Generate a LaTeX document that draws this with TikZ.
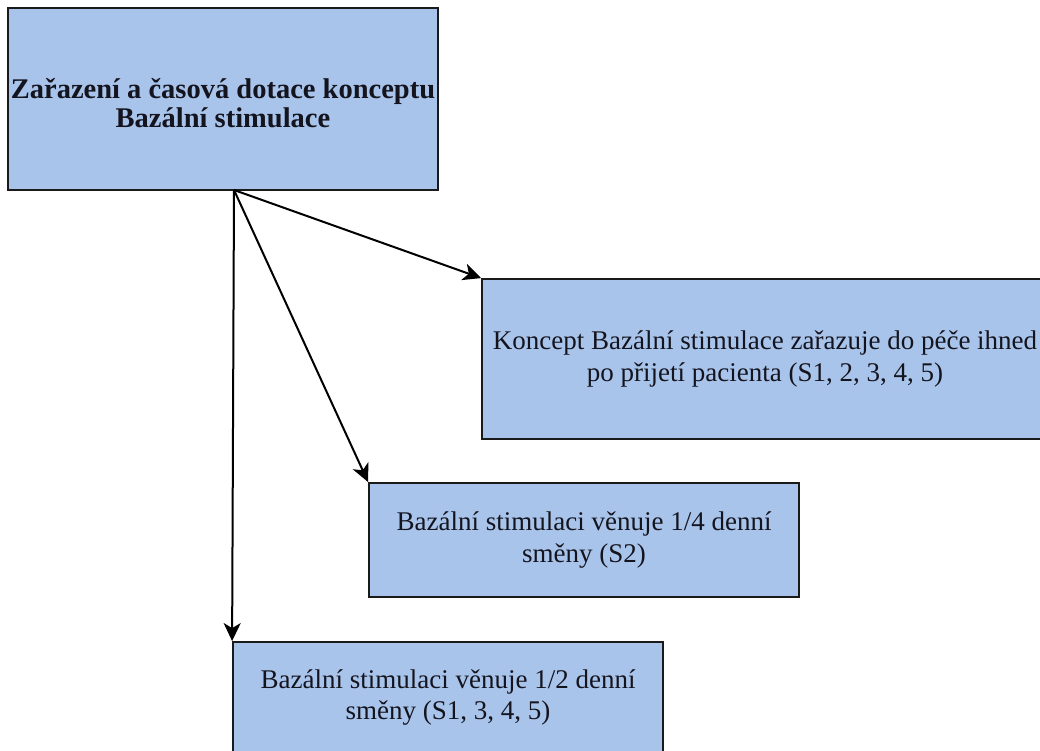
\documentclass[tikz,border=0pt]{standalone}
\usepackage{fontspec}
\setmainfont{Liberation Serif}
\usepackage{tikz}
\usetikzlibrary{arrows.meta}
\usetikzlibrary{positioning}
\definecolor{box-blue}{HTML}{A9C4EB}
\definecolor{box-line}{HTML}{1A1A1A}
\definecolor{box-text}{HTML}{14141E}
\tikzset{
  stagebox/.style={draw=box-line,fill=box-blue,line width=1.8pt,text=box-text,
    inner sep=0pt,align=center,font=\fontsize{27}{31.5}\selectfont},
  headbox/.style={stagebox,font=\fontsize{28.5}{29}\selectfont\bfseries},
  link/.style={draw=black,line width=2pt,-{Stealth[length=18pt,width=17pt,inset=5pt]}}
}
\begin{document}
\begin{tikzpicture}[x=1pt,y=-1pt]
\useasboundingbox (0,0) rectangle (1040,751);
% boxes
\node[headbox,minimum width=430pt,minimum height=182pt,text height=61pt,text depth=4pt] (title) at (223,99)
  {Zařazení a časová dotace konceptu\\Bazální stimulace};
\node[stagebox,minimum width=566pt,minimum height=160pt] (now) at (765,359)
  {Koncept Bazální stimulace zařazuje do péče ihned\\po přijetí pacienta (S1, 2, 3, 4, 5)};
\node[stagebox,minimum width=430pt,minimum height=114pt] (quarter) at (584,540)
  {Bazální stimulaci věnuje 1/4 denní\\směny (S2)};
\node[stagebox,minimum width=430pt,minimum height=111pt] (half) at (448,697.5)
  {Bazální stimulaci věnuje 1/2 denní\\směny (S1, 3, 4, 5)};
% arrows out of the top box
\coordinate (src) at (234,190);
\draw[link] (src) -- (now.north west);
\draw[link] (src) -- (quarter.north west);
\draw[link] (src) -- (half.north west);
\end{tikzpicture}
\end{document}
